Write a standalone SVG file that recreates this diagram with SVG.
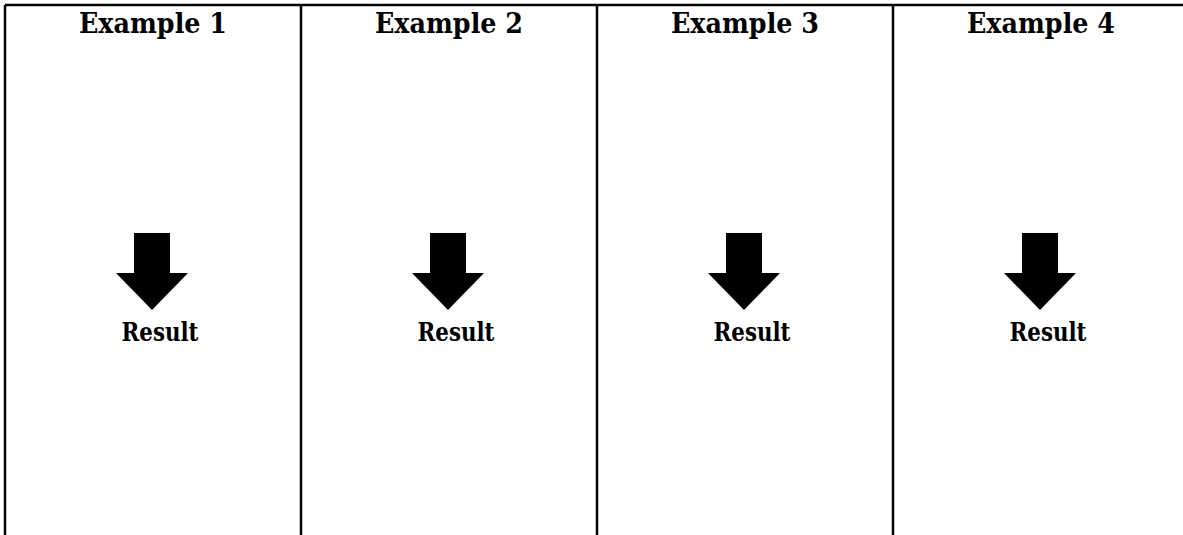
<svg xmlns="http://www.w3.org/2000/svg" width="1183" height="535" viewBox="0 0 1183 535">
<style>
.t{font-family:"DejaVu Serif","Liberation Serif",serif;font-weight:bold;font-size:28px;fill:#000;text-anchor:middle}
.r{font-size:26px}
.ln{stroke:#000;stroke-width:2.5;fill:none}
</style>
<defs>
<path id="arr" d="M-18,-77 H18 V-37 H36 L0,0 L-36,-37 H-18 Z" fill="#000"/>
</defs>
<rect width="1183" height="535" fill="#fff"/>
<g id="grid">
<line class="ln" x1="5" y1="5" x2="1183" y2="5"/>
<line class="ln" x1="5" y1="5" x2="5" y2="535"/>
<line class="ln" x1="301" y1="5" x2="301" y2="535"/>
<line class="ln" x1="597" y1="5" x2="597" y2="535"/>
<line class="ln" x1="893" y1="5" x2="893" y2="535"/>
</g>
<g id="col1"><text class="t" x="153" y="33" textLength="148" lengthAdjust="spacingAndGlyphs">Example 1</text><use href="#arr" x="152" y="310"/><text class="t r" x="160" y="341" textLength="77" lengthAdjust="spacingAndGlyphs">Result</text></g>
<g id="col2"><text class="t" x="449" y="33" textLength="148" lengthAdjust="spacingAndGlyphs">Example 2</text><use href="#arr" x="448" y="310"/><text class="t r" x="456" y="341" textLength="77" lengthAdjust="spacingAndGlyphs">Result</text></g>
<g id="col3"><text class="t" x="745" y="33" textLength="148" lengthAdjust="spacingAndGlyphs">Example 3</text><use href="#arr" x="744" y="310"/><text class="t r" x="752" y="341" textLength="77" lengthAdjust="spacingAndGlyphs">Result</text></g>
<g id="col4"><text class="t" x="1041" y="33" textLength="148" lengthAdjust="spacingAndGlyphs">Example 4</text><use href="#arr" x="1040" y="310"/><text class="t r" x="1048" y="341" textLength="77" lengthAdjust="spacingAndGlyphs">Result</text></g>
</svg>
